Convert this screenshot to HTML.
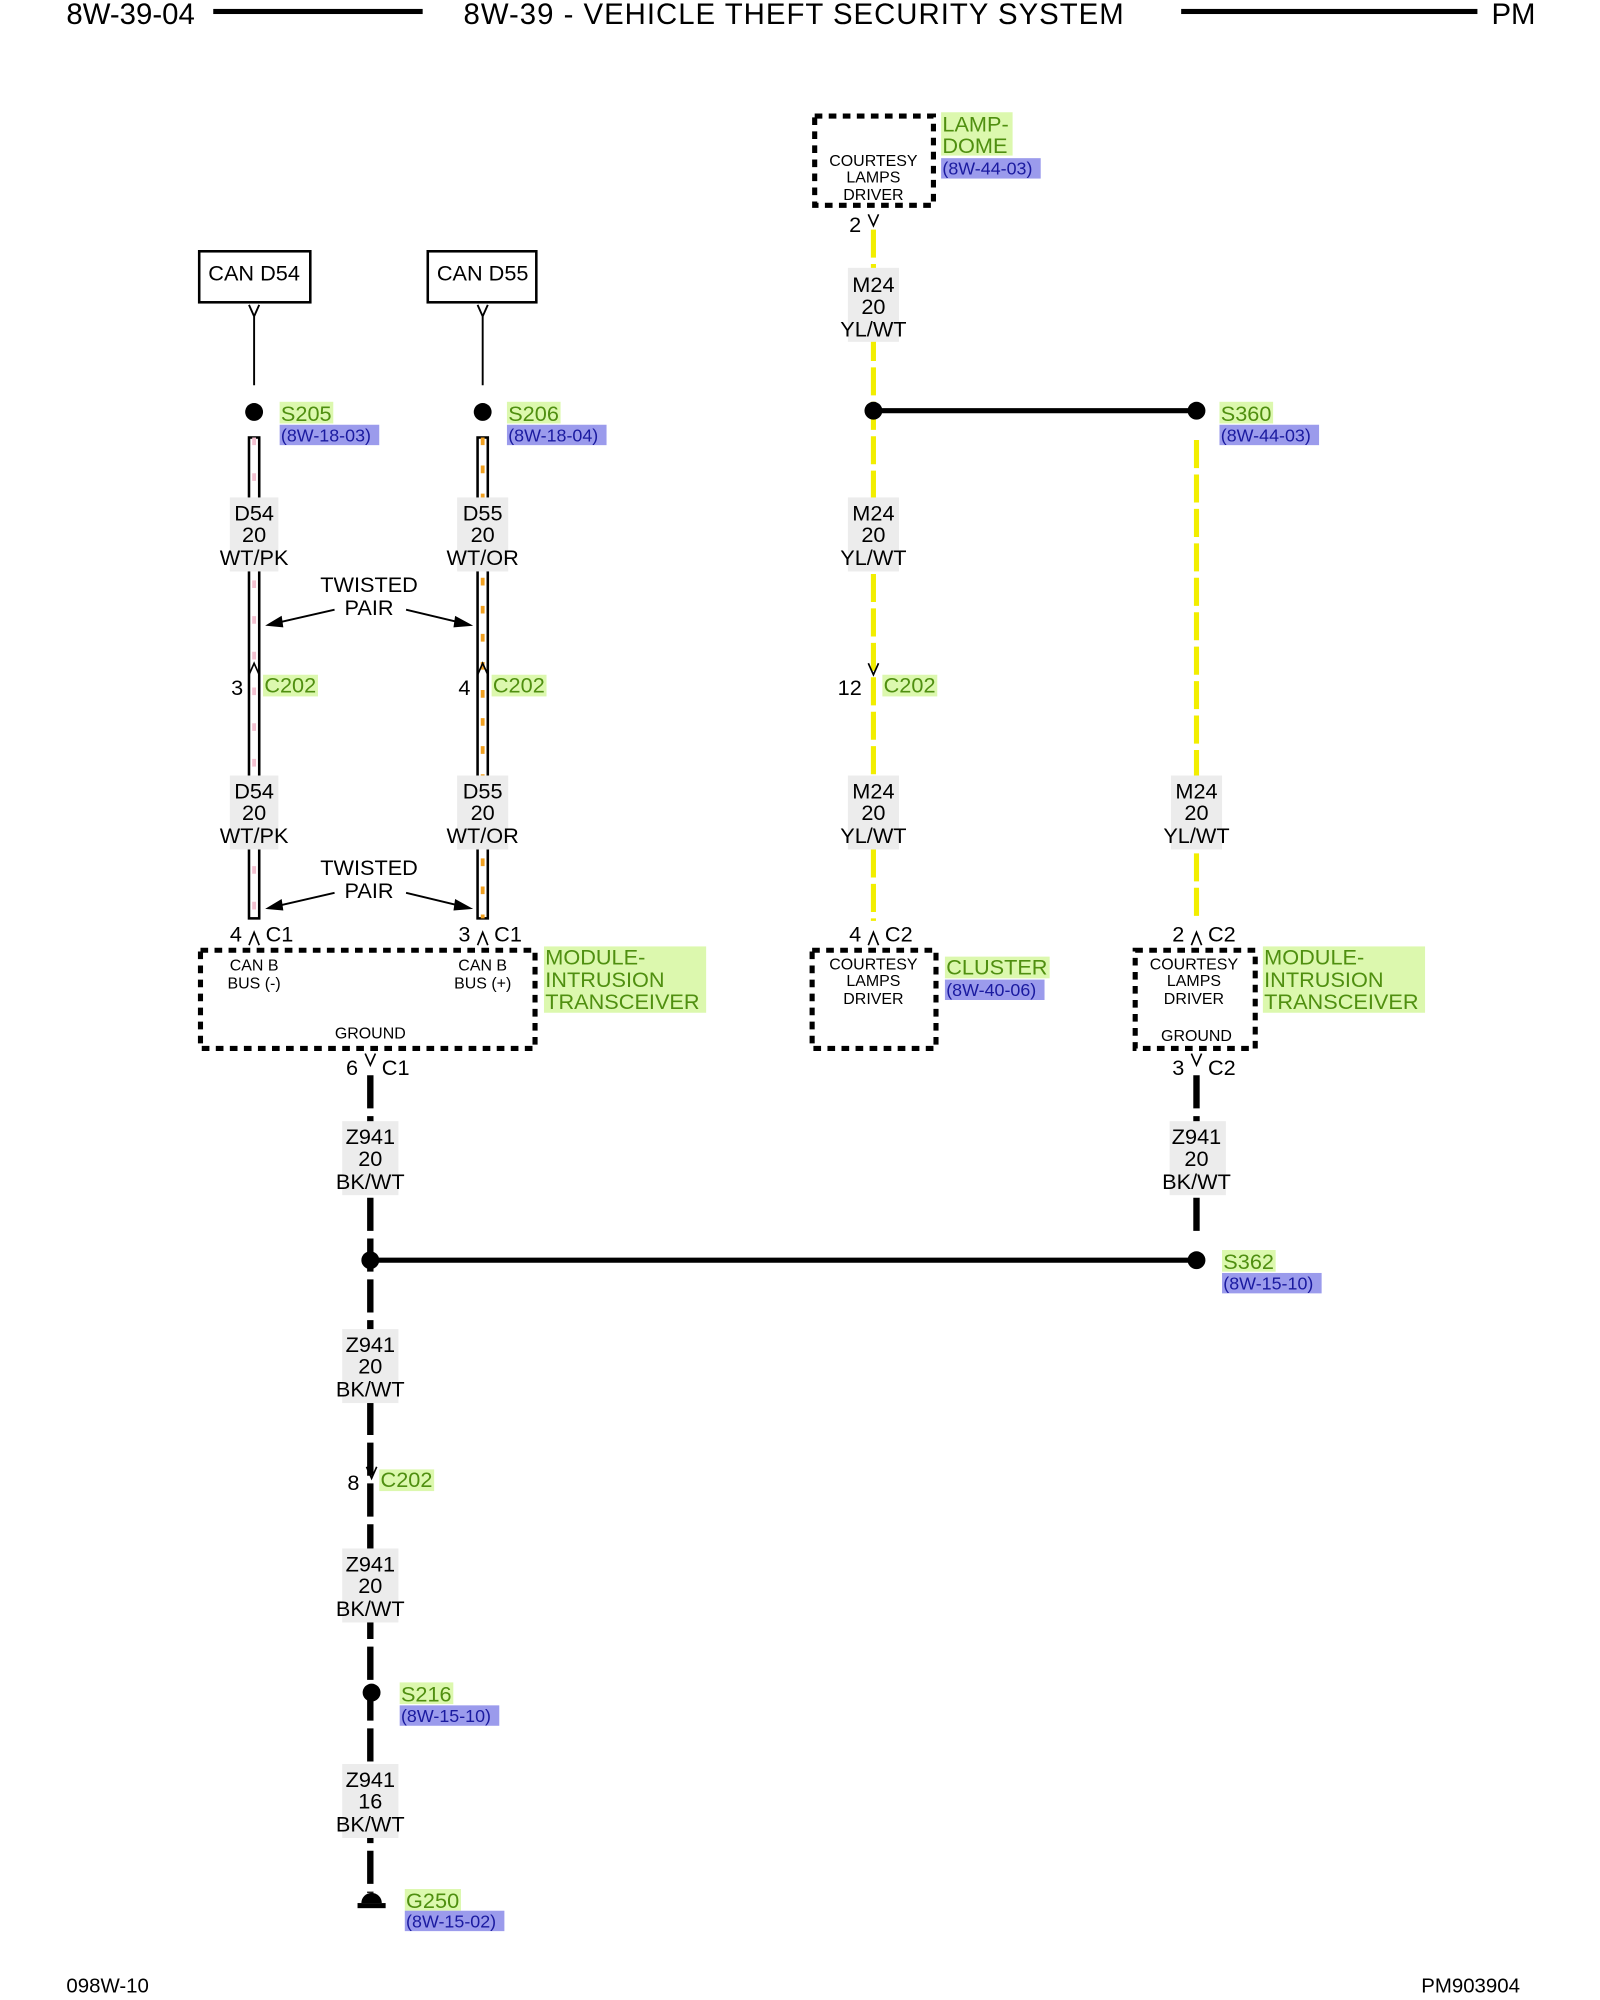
<!DOCTYPE html>
<html><head><meta charset="utf-8"><style>html,body{margin:0;padding:0;background:#fff}svg{display:block}</style></head><body>
<svg width="1600" height="2000" viewBox="0 0 1253 1568" preserveAspectRatio="none" font-family="Liberation Sans, sans-serif" xmlns="http://www.w3.org/2000/svg">
<rect width="1253" height="1568" fill="#fff"/>
<!-- header -->
<g font-size="23" fill="#000">
<text x="52" y="19">8W-39-04</text>
<text x="363" y="19" textLength="517">8W-39 - VEHICLE THEFT SECURITY SYSTEM</text>
<text x="1168" y="19">PM</text>
</g>
<rect x="167" y="7" width="164" height="4"/>
<rect x="925" y="7" width="232" height="4"/>
<g font-size="16"><text x="52" y="1562">098W-10</text><text x="1113" y="1562">PM903904</text></g>

<!-- CAN boxes -->
<rect x="156" y="197" width="87" height="40" fill="none" stroke="#000" stroke-width="2"/>
<rect x="335" y="197" width="85" height="40" fill="none" stroke="#000" stroke-width="2"/>
<g font-size="17" text-anchor="middle"><text x="199" y="220">CAN D54</text><text x="378" y="220">CAN D55</text></g>
<path d="M195 239 L199 248 L203 239 M199 248 V302 M374 239 L378 248 L382 239 M378 248 V302" fill="none" stroke="#000" stroke-width="1.5"/>
<circle cx="199" cy="323" r="7"/><circle cx="378" cy="323" r="7"/>

<!-- twisted pairs -->
<g>
<rect x="195" y="343" width="8" height="377" fill="#fff" stroke="#000" stroke-width="2"/>
<line x1="199" y1="343" x2="199" y2="720" stroke="#f3c0d0" stroke-width="3" stroke-dasharray="6 22"/>
<rect x="374" y="343" width="8" height="377" fill="#fff" stroke="#000" stroke-width="2"/>
<line x1="378" y1="343" x2="378" y2="720" stroke="#f0a020" stroke-width="3" stroke-dasharray="6 16"/>
</g>
<!-- yellow wires -->
<g stroke="#f2ee00" stroke-width="4" stroke-dasharray="22 5" fill="none">
<line x1="684" y1="180" x2="684" y2="722"/>
<line x1="937" y1="345" x2="937" y2="722"/>
</g>
<!-- ground wires -->
<g stroke="#000" stroke-width="5" stroke-dasharray="26 6" fill="none">
<line x1="290" y1="843" x2="290" y2="1484"/>
<line x1="937" y1="843" x2="937" y2="968"/>
</g>
<line x1="684" y1="322" x2="937" y2="322" stroke="#000" stroke-width="4"/>
<circle cx="684" cy="322" r="7"/><circle cx="937" cy="322" r="7"/>
<line x1="290" y1="988" x2="937" y2="988" stroke="#000" stroke-width="4"/>
<circle cx="290" cy="988" r="7"/><circle cx="937" cy="988" r="7"/>
<circle cx="291" cy="1327" r="7"/>
<!-- ground symbol -->
<path d="M283 1492 A8 8 0 0 1 299 1492 Z" fill="#000"/>
<rect x="280" y="1492" width="22" height="4"/>

<!-- wire labels -->
<g font-size="17" text-anchor="middle">
<g fill="#ececec">
<rect x="180" y="390" width="38" height="58"/><rect x="358" y="390" width="40" height="58"/>
<rect x="180" y="608" width="38" height="58"/><rect x="358" y="608" width="40" height="58"/>
<rect x="664" y="210" width="40" height="58"/><rect x="664" y="390" width="40" height="58"/>
<rect x="664" y="608" width="40" height="58"/><rect x="917" y="608" width="40" height="58"/>
<rect x="268" y="879" width="44" height="58"/><rect x="916" y="879" width="44" height="58"/>
<rect x="268" y="1042" width="44" height="58"/><rect x="268" y="1214" width="44" height="58"/>
<rect x="268" y="1383" width="44" height="58"/>
</g>
<text x="199" y="408">D54</text><text x="199" y="425">20</text><text x="199" y="443">WT/PK</text>
<text x="378" y="408">D55</text><text x="378" y="425">20</text><text x="378" y="443">WT/OR</text>
<text x="199" y="626">D54</text><text x="199" y="643">20</text><text x="199" y="661">WT/PK</text>
<text x="378" y="626">D55</text><text x="378" y="643">20</text><text x="378" y="661">WT/OR</text>
<text x="684" y="229">M24</text><text x="684" y="246">20</text><text x="684" y="264">YL/WT</text>
<text x="684" y="408">M24</text><text x="684" y="425">20</text><text x="684" y="443">YL/WT</text>
<text x="684" y="626">M24</text><text x="684" y="643">20</text><text x="684" y="661">YL/WT</text>
<text x="937" y="626">M24</text><text x="937" y="643">20</text><text x="937" y="661">YL/WT</text>
<text x="290" y="897">Z941</text><text x="290" y="914">20</text><text x="290" y="932">BK/WT</text>
<text x="937" y="897">Z941</text><text x="937" y="914">20</text><text x="937" y="932">BK/WT</text>
<text x="290" y="1060">Z941</text><text x="290" y="1077">20</text><text x="290" y="1095">BK/WT</text>
<text x="290" y="1232">Z941</text><text x="290" y="1249">20</text><text x="290" y="1267">BK/WT</text>
<text x="290" y="1401">Z941</text><text x="290" y="1418">16</text><text x="290" y="1436">BK/WT</text>
<text x="289" y="464">TWISTED</text><text x="289" y="482">PAIR</text>
<text x="289" y="686">TWISTED</text><text x="289" y="704">PAIR</text>
</g>
<g stroke="#000" stroke-width="1.5" fill="#000">
<line x1="262" y1="478" x2="214" y2="489"/><path d="M210 490 L220 484 L221 491 Z"/>
<line x1="318" y1="478" x2="364" y2="489"/><path d="M368 490 L357 484 L356 491 Z"/>
<line x1="262" y1="700" x2="214" y2="711"/><path d="M210 712 L220 706 L221 713 Z"/>
<line x1="318" y1="700" x2="364" y2="711"/><path d="M368 712 L357 706 L356 713 Z"/>
</g>

<!-- connectors -->
<g fill="none" stroke="#000" stroke-width="1.3">
<path d="M680 168 L684 177 L688 168"/>
<path d="M195 529 L199 520 L203 529"/><path d="M374 529 L378 520 L382 529"/>
<path d="M680 520 L684 529 L688 520"/>
<path d="M195 741 L199 731 L203 741"/><path d="M374 741 L378 731 L382 741"/>
<path d="M680 741 L684 731 L688 741"/><path d="M933 741 L937 731 L941 741"/>
<path d="M286 826 L290 835 L294 826"/><path d="M933 826 L937 835 L941 826"/>
<path d="M287 1150 L291 1159 L295 1150"/>
</g>
<g font-size="17">
<text x="665" y="182">2</text>
<text x="181" y="545">3</text><text x="359" y="545">4</text><text x="656" y="545">12</text>
<text x="180" y="738">4</text><text x="208" y="738">C1</text>
<text x="359" y="738">3</text><text x="387" y="738">C1</text>
<text x="665" y="738">4</text><text x="693" y="738">C2</text>
<text x="918" y="738">2</text><text x="946" y="738">C2</text>
<text x="271" y="843">6</text><text x="299" y="843">C1</text>
<text x="918" y="843">3</text><text x="946" y="843">C2</text>
<text x="272" y="1168">8</text>
</g>

<!-- component boxes -->
<g fill="none" stroke="#000" stroke-width="4" stroke-dasharray="6 5">
<rect x="638" y="91" width="93" height="70"/>
<rect x="157" y="745" width="262" height="77"/>
<rect x="636" y="745" width="97" height="77"/>
<rect x="889" y="745" width="94" height="77"/>
</g>
<g font-size="12.5" text-anchor="middle">
<text x="684" y="130">COURTESY</text><text x="684" y="143">LAMPS</text><text x="684" y="157">DRIVER</text>
<text x="199" y="761">CAN B</text><text x="199" y="775">BUS (-)</text>
<text x="378" y="761">CAN B</text><text x="378" y="775">BUS (+)</text>
<text x="290" y="814">GROUND</text>
<text x="684" y="760">COURTESY</text><text x="684" y="773">LAMPS</text><text x="684" y="787">DRIVER</text>
<text x="935" y="760">COURTESY</text><text x="935" y="773">LAMPS</text><text x="935" y="787">DRIVER</text>
<text x="937" y="816">GROUND</text>
</g>

<!-- green/blue labels -->
<g fill="#dcf8ae">
<rect x="219" y="315" width="42" height="17"/><rect x="397" y="315" width="42" height="17"/>
<rect x="955" y="315" width="42" height="17"/><rect x="957" y="980" width="42" height="17"/>
<rect x="313" y="1319" width="42" height="17"/><rect x="317" y="1481" width="44" height="17"/>
<rect x="206" y="529" width="43" height="17"/><rect x="385" y="529" width="43" height="17"/>
<rect x="691" y="529" width="43" height="17"/><rect x="297" y="1152" width="43" height="17"/>
<rect x="737" y="88" width="56" height="34"/>
<rect x="426" y="742" width="127" height="52"/>
<rect x="740" y="750" width="82" height="17"/>
<rect x="989" y="742" width="127" height="52"/>
</g>
<g fill="#9b9bec">
<rect x="219" y="333" width="78" height="16"/><rect x="397" y="333" width="78" height="16"/>
<rect x="955" y="333" width="78" height="16"/><rect x="957" y="998" width="78" height="16"/>
<rect x="313" y="1337" width="78" height="16"/><rect x="317" y="1498" width="78" height="16"/>
<rect x="737" y="124" width="78" height="16"/><rect x="740" y="768" width="78" height="16"/>
</g>
<g font-size="17" fill="#4f8f10">
<text x="220" y="330">S205</text><text x="398" y="330">S206</text><text x="956" y="330">S360</text>
<text x="958" y="995">S362</text><text x="314" y="1334">S216</text><text x="318" y="1496">G250</text>
<text x="207" y="543">C202</text><text x="386" y="543">C202</text><text x="692" y="543">C202</text><text x="298" y="1166">C202</text>
<text x="738" y="103">LAMP-</text><text x="738" y="120">DOME</text>
<text x="427" y="756">MODULE-</text><text x="427" y="774">INTRUSION</text><text x="427" y="791">TRANSCEIVER</text>
<text x="741" y="764">CLUSTER</text>
<text x="990" y="756">MODULE-</text><text x="990" y="774">INTRUSION</text><text x="990" y="791">TRANSCEIVER</text>
</g>
<g font-size="14" fill="#1a1aa0">
<text x="220" y="346">(8W-18-03)</text><text x="398" y="346">(8W-18-04)</text><text x="956" y="346">(8W-44-03)</text>
<text x="958" y="1011">(8W-15-10)</text><text x="314" y="1350">(8W-15-10)</text><text x="318" y="1511">(8W-15-02)</text>
<text x="738" y="137">(8W-44-03)</text><text x="741" y="781">(8W-40-06)</text>
</g>
</svg>
</body></html>
